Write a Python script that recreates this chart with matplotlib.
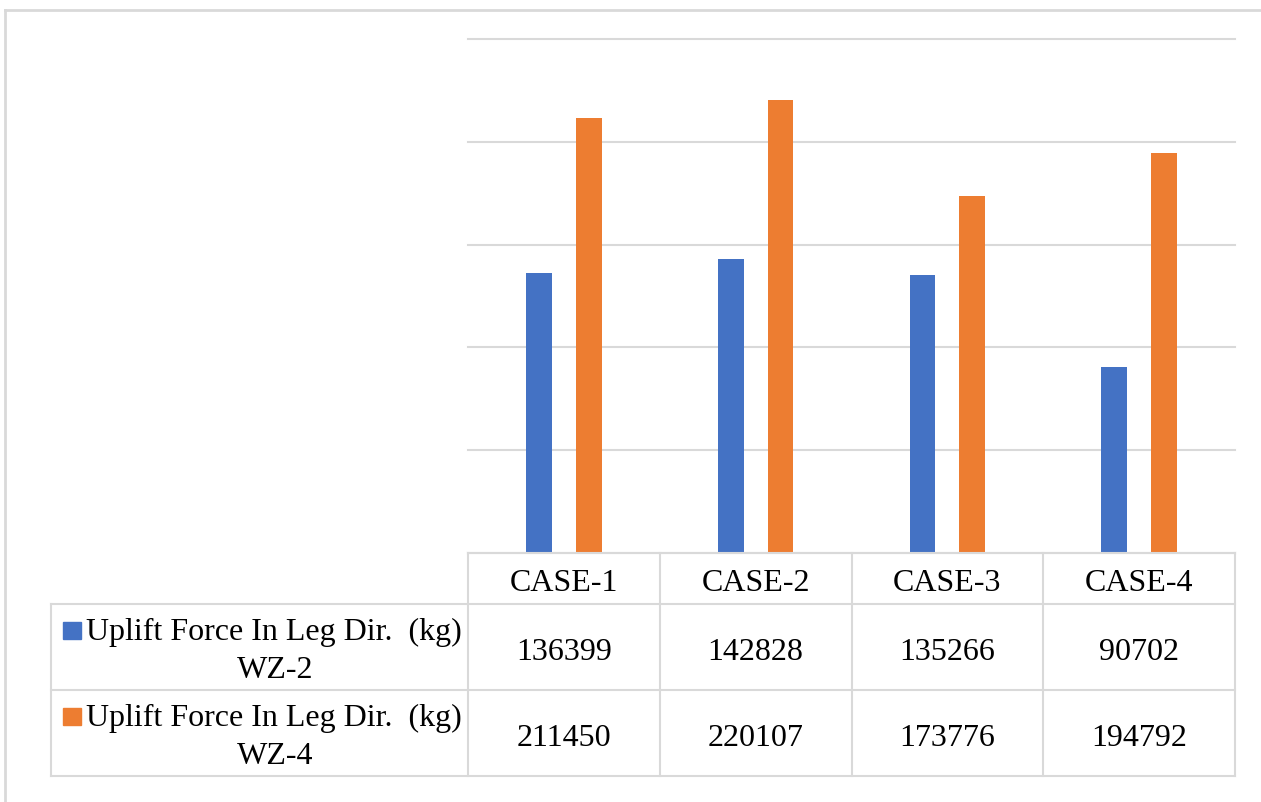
import matplotlib
matplotlib.use('Agg')
import matplotlib.pyplot as plt
from matplotlib.patches import Rectangle
import numpy as np

cases = ['CASE-1', 'CASE-2', 'CASE-3', 'CASE-4']
series_names = ['Uplift Force In Leg Dir.  (kg)\nWZ-2', 'Uplift Force In Leg Dir.  (kg)\nWZ-4']
wz2 = [136399, 142828, 135266, 90702]
wz4 = [211450, 220107, 173776, 194792]
colors = ['#4472C4', '#ED7D31']
grid_c = '#D9D9D9'

W, H = 1261, 802
fig = plt.figure(figsize=(W / 100, H / 100), dpi=100)
plt.rcParams['font.family'] = ['Liberation Serif', 'DejaVu Serif']

def px(x0, y0, x1, y1):
    # pixel box -> figure fraction
    return [x0 / W, 1 - y1 / H, (x1 - x0) / W, (y1 - y0) / H]

# outer chart border (only left/top visible in the reference)
fig.add_artist(plt.Line2D([5 / W, 5 / W], [0, 1 - 10 / H], color=grid_c, lw=2, transform=fig.transFigure))
fig.add_artist(plt.Line2D([5 / W, 1], [1 - 10 / H, 1 - 10 / H], color=grid_c, lw=2, transform=fig.transFigure))

# bar area
ax = fig.add_axes(px(468, 39, 1235, 553))
x = np.arange(len(cases))
off = 0.13
bw = 0.135
ax.bar(x - off, wz2, bw, color=colors[0], zorder=3)
ax.bar(x + off, wz4, bw, color=colors[1], zorder=3)
ax.set_xlim(-0.5, 3.5)
ax.set_ylim(0, 250000)
ax.set_yticks(np.arange(0, 250001, 50000))
ax.yaxis.grid(True, color=grid_c, lw=1.5, zorder=0)
for gl in ax.get_ygridlines():
    gl.set_clip_on(False)
ax.set_xticks([])
ax.tick_params(left=False, labelleft=False)
for s in ax.spines.values():
    s.set_visible(False)

# data table below (y in pixels from the table top)
tab = fig.add_axes(px(51, 553, 1235, 776))
left_w = (468 - 51) / ((1235 - 468) / 4)
tab.set_xlim(-0.5 - left_w, 3.5)
tab.set_ylim(223, 0)
tab.axis('off')
row_edges = [0, 51, 137, 223]
lw = 1.5
tab.plot([-0.5, 3.5], [0, 0], color=grid_c, lw=lw, clip_on=False)
for yy in row_edges[1:]:
    tab.plot([-0.5 - left_w, 3.5], [yy, yy], color=grid_c, lw=lw, clip_on=False)
tab.plot([-0.5 - left_w] * 2, [51, 223], color=grid_c, lw=lw, clip_on=False)
for xx in np.arange(-0.5, 3.6, 1.0):
    tab.plot([xx, xx], [0, 223], color=grid_c, lw=lw, clip_on=False)

fs = 23
for i, c in enumerate(cases):
    tab.text(i, 38, c, ha='center', va='baseline', fontsize=fs)
lx = -0.5 - left_w
px_unit = left_w / (468 - 51)
for r, vals in enumerate([wz2, wz4]):
    top = row_edges[r + 1]
    for i, v in enumerate(vals):
        tab.text(i, top + 56, str(v), ha='center', va='baseline', fontsize=fs)
    name1, name2 = series_names[r].split('\n')
    tab.text(-0.5 - 6 * px_unit, top + 36, name1, ha='right', va='baseline', fontsize=fs)
    tab.text(lx + (275 - 51) * px_unit, top + 74, name2, ha='center', va='baseline', fontsize=fs)
    tab.add_patch(Rectangle((lx + 12 * px_unit, top + 18), 18 * px_unit, 17,
                            color=colors[r], clip_on=False))

fig.savefig('out.png', dpi=100)
